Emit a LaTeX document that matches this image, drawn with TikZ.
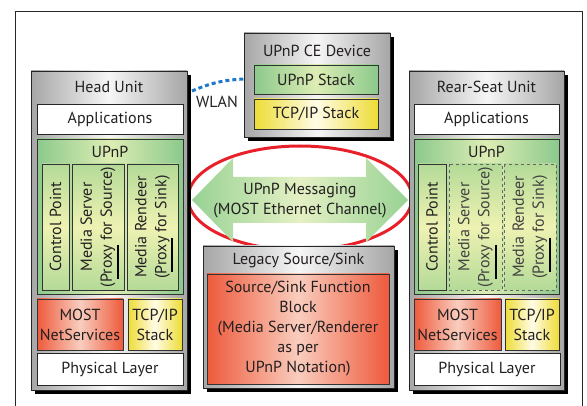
\documentclass[tikz,border=0pt]{standalone}
\usepackage{fontspec}
\setmainfont{PT Sans}
\usetikzlibrary{shadows}
\definecolor{txt}{HTML}{231F20}
\definecolor{grayedge}{HTML}{A6A6A6}
\definecolor{graymid}{HTML}{F6F6F6}
\definecolor{grnedge}{HTML}{8CC98C}
\definecolor{grnmid}{HTML}{DDEDB4}
\definecolor{coledge}{HTML}{B4DA98}
\definecolor{colmid}{HTML}{EEF2B2}
\definecolor{rededge}{HTML}{EE5A3C}
\definecolor{redmid}{HTML}{F9CDBE}
\definecolor{yeledge}{HTML}{EEDC36}
\definecolor{yelmid}{HTML}{FFFCE6}
\definecolor{wlanblue}{HTML}{1E78C8}
\definecolor{ringred}{HTML}{E8202A}
\definecolor{arredge}{HTML}{98D294}
\definecolor{arrmid}{HTML}{E4F0C4}
\begin{document}
\begin{tikzpicture}[x=1pt,y=-1pt,
	every node/.style={font=\fontsize{16}{20}\selectfont,text=txt,inner sep=0pt,outer sep=0pt},
	unit/.style={draw=black!85,line width=0.8pt,left color=grayedge,right color=grayedge,middle color=graymid,
		drop shadow={shadow xshift=4pt,shadow yshift=-4pt,fill=black,opacity=1}},
	plain/.style={draw=black!85,line width=0.8pt,fill=white},
	upnp/.style={draw=black!80,line width=0.8pt,left color=grnedge,right color=grnedge,middle color=grnmid},
	column/.style={draw=black!80,line width=0.8pt,rotate=90,top color=coledge,bottom color=coledge,middle color=colmid,align=center},
	proxy/.style={column,draw=black!60,dashed,text=black!75},
	most/.style={draw=black!80,line width=0.8pt,left color=rededge,right color=rededge,middle color=redmid,align=center},
	tcp/.style={draw=black!80,line width=0.8pt,left color=yeledge,right color=yeledge,middle color=yelmid,align=center},
	ubar/.style={line width=1.4pt,black}]
	\useasboundingbox (0,0) rectangle (587,406);
	% page frame
	\draw [black!85,line width=0.8pt] (15,406) -- (15,11) -- (582,11) -- (582,406);
	% messaging channel
	\draw [ringred,line width=3pt] (300,198) ellipse [x radius=112pt,y radius=52pt];
	\shade [left color=arredge,right color=arredge,middle color=arrmid]
		(192,200) -- (233,158) -- (233,177) -- (366,177) -- (366,158) -- (408,200)
		-- (366,242) -- (366,223) -- (233,223) -- (233,242) -- cycle;
	\node [align=center] at (300,201) (msg) {UPnP Messaging\\(MOST Ethernet Channel)};

	% head unit
	\node [unit,minimum width=156pt,minimum height=319pt] at (109,230.5) (hu) {};
	\node at (109,87) (hutitle) {Head Unit};
	\node [plain,minimum width=146pt,minimum height=30pt] at (110,119) (huapp) {Applications};
	\node [upnp,minimum width=146pt,minimum height=155pt] at (110,216.5) (huupnp) {};
	\node at (110,152) (huupnplabel) {UPnP};
	\node [column,minimum width=126pt,minimum height=27pt] at (55.5,227) (hucp) {Control Point};
	\node [column,minimum width=126pt,minimum height=52pt] at (98,227) (hums) {Media Server\\(Proxy for Source)};
	\node [column,minimum width=126pt,minimum height=51pt] at (152.5,227) (humr) {Media Rendeer\\(Proxy for Sink)};
	\draw [ubar] ([xshift=20pt,yshift=-18pt]hums.center) -- ++(0,34);
	\draw [ubar] ([xshift=19.5pt,yshift=-11pt]humr.center) -- ++(0,34);
	\node [most,minimum width=86pt,minimum height=51pt] at (80,324.5) (humost) {MOST\\NetServices};
	\node [tcp,minimum width=54pt,minimum height=51pt] at (155,324.5) (hutcp) {TCP/IP\\Stack};
	\node [plain,minimum width=146pt,minimum height=32pt] at (110,369) (huphy) {Physical Layer};

	% rear-seat unit
	\node [unit,minimum width=155pt,minimum height=319pt] at (486.5,230.5) (rs) {};
	\node at (486.5,87) (rstitle) {Rear-Seat Unit};
	\node [plain,minimum width=145pt,minimum height=30pt] at (486.5,119) (rsapp) {Applications};
	\node [upnp,minimum width=145pt,minimum height=155pt] at (486.5,216.5) (rsupnp) {};
	\node at (486.5,152) (rsupnplabel) {UPnP};
	\node [column,minimum width=126pt,minimum height=28pt] at (432,227) (rscp) {Control Point};
	\node [proxy,minimum width=126pt,minimum height=53pt] at (475.5,227) (rsms) {Media Server\\(Proxy for Source)};
	\node [proxy,minimum width=126pt,minimum height=52pt] at (530,227) (rsmr) {Media Rendeer\\(Proxy for Sink)};
	\draw [ubar] ([xshift=20.5pt,yshift=-18pt]rsms.center) -- ++(0,34);
	\draw [ubar] ([xshift=20pt,yshift=-11pt]rsmr.center) -- ++(0,34);
	\node [most,minimum width=87pt,minimum height=51pt] at (457.5,324.5) (rsmost) {MOST\\NetServices};
	\node [tcp,minimum width=54pt,minimum height=51pt] at (532,324.5) (rstcp) {TCP/IP\\Stack};
	\node [plain,minimum width=146pt,minimum height=32pt] at (487,369) (rsphy) {Physical Layer};

	% CE device
	\node [unit,minimum width=146pt,minimum height=104pt] at (317,85) (ce) {};
	\node at (317,51) (cetitle) {UPnP CE Device};
	\node [upnp,minimum width=124pt,minimum height=29pt] at (316,79.5) (cestack) {UPnP Stack};
	\node [tcp,minimum width=124pt,minimum height=30pt] at (316,114) (cetcp) {TCP/IP Stack};
	\draw [wlanblue,line width=3pt,dash pattern=on 4pt off 3pt]
		([xshift=5pt,yshift=-20pt]hu.north east) to [bend left=10] ([yshift=6pt]ce.west);
	\node at (217,102) (wlan) {WLAN};

	% legacy source/sink
	\node [unit,minimum width=191pt,minimum height=142pt] at (298.5,317) (leg) {};
	\node at (298.5,261) (legtitle) {Legacy Source/Sink};
	\node [most,minimum width=182pt,minimum height=110pt] at (298,329) (legblock)
		{Source/Sink Function\\Block\\(Media Server/Renderer\\as per\\UPnP Notation)};
\end{tikzpicture}
\end{document}
